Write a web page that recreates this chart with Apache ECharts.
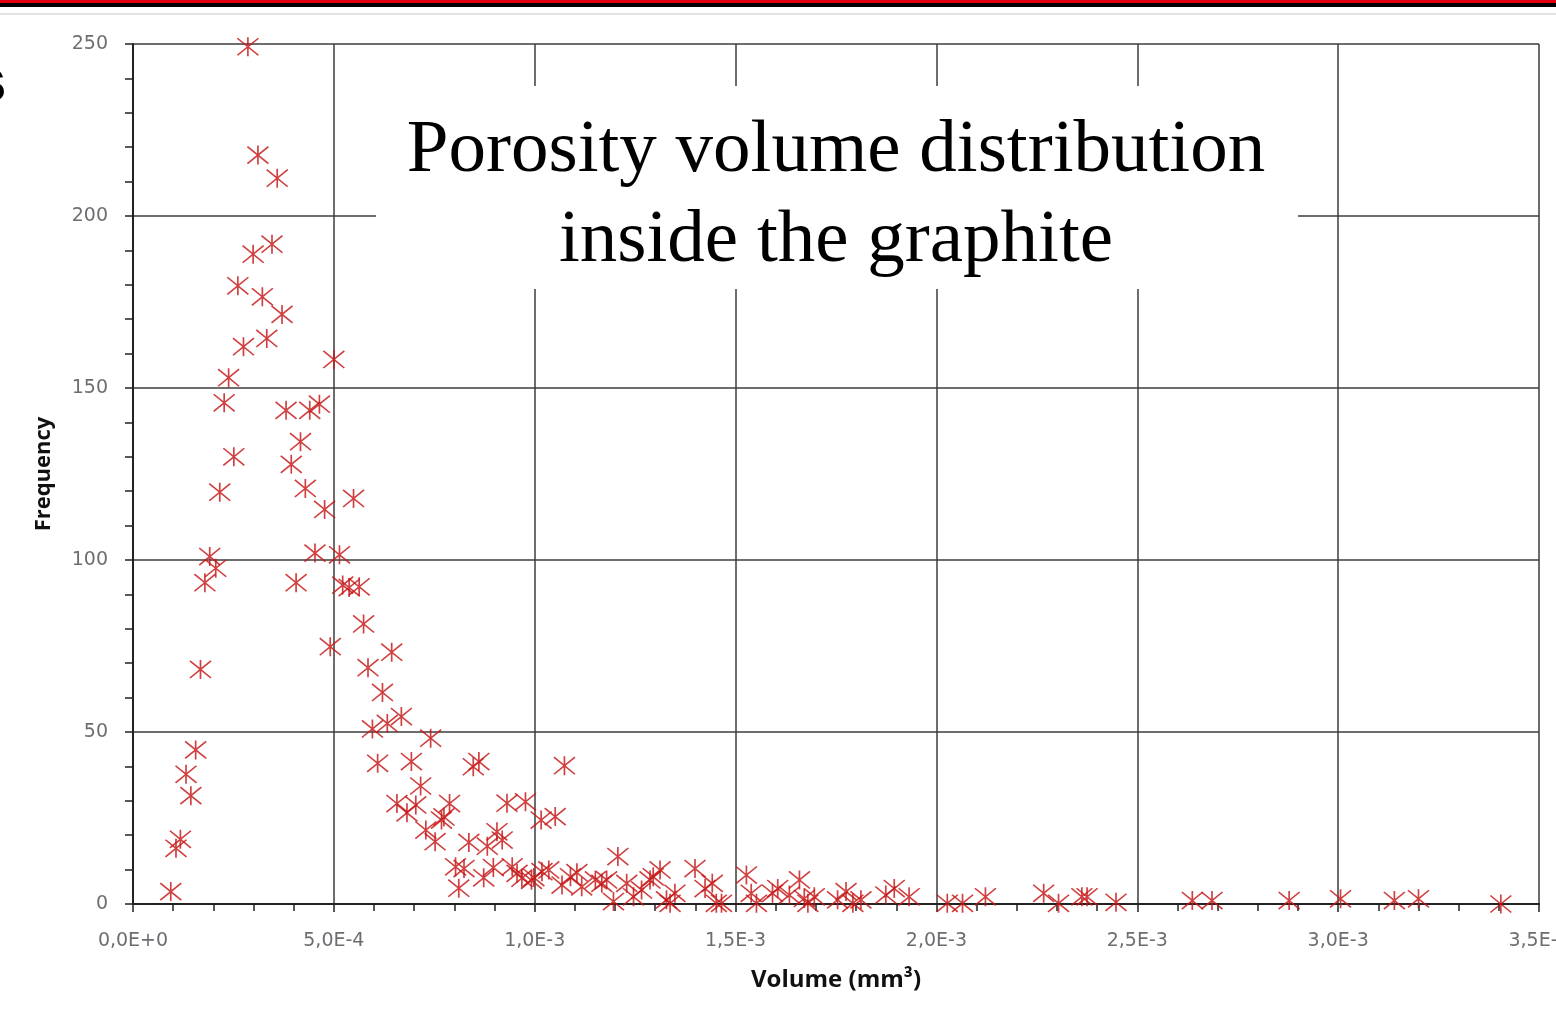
<!DOCTYPE html>
<html>
<head>
<meta charset="utf-8">
<script src="https://cdn.jsdelivr.net/npm/echarts@6/dist/echarts.min.js"></script>
<style>
html,body{margin:0;padding:0;background:#fff;}
#c{width:1556px;height:1024px;}
</style>
</head>
<body>
<div id="c"></div>
<script>
// Volume values in units of 1E-4 mm3
const volumeE4 = [
  0.94,1.07,1.18,1.44,1.32,1.56,1.68,1.79,1.91,2.06,2.16,2.27,2.38,2.51,2.61,2.75,2.86,2.99,3.11,3.22,
  3.33,3.46,3.59,3.71,3.81,3.94,4.06,4.17,4.29,4.40,4.53,4.64,4.77,4.91,5.00,5.14,5.22,5.38,5.49,5.63,
  5.74,5.85,5.96,6.09,6.21,6.33,6.44,6.57,6.68,6.82,6.93,7.04,7.16,7.29,7.41,7.52,7.68,7.74,7.88,8.03,
  8.11,8.24,8.36,8.47,8.61,8.73,8.82,8.97,9.06,9.19,9.31,9.44,9.56,9.68,9.77,9.92,9.98,10.16,10.18,10.35,
  10.51,10.68,10.74,10.89,11.05,11.17,11.51,11.67,11.79,11.96,12.07,12.29,12.46,12.66,12.87,12.95,13.12,13.28,13.37,13.49,
  13.99,14.24,14.42,14.52,14.65,15.27,15.39,15.52,15.92,16.05,16.34,16.59,16.71,16.80,16.96,17.54,17.75,17.92,18.12,18.74,
  18.95,19.32,20.27,20.65,21.22,22.67,23.04,23.62,23.75,24.47,26.37,26.86,28.78,30.06,31.40,32.00,34.05
];
const frequency = [
  3.6,16.2,18.8,31.5,37.7,44.8,68.2,93.4,101,97.6,119.7,145.7,153,130,179.7,162,249.2,188.9,217.7,176.5,
  164.4,191.8,211,171.4,143.5,127.8,93.4,134.4,120.8,143.5,102,145.3,114.7,74.8,158.3,101.5,92.7,92,117.9,92.2,
  81.4,68.7,50.9,40.9,61.5,52.5,73.2,29.2,54.5,26.5,41.4,28.8,34.3,21.5,48.2,18.1,24.4,25.3,29.2,10.8,
  4.6,10.3,17.9,39.9,41.4,7.6,16.8,10.6,21,18.6,29.3,10.8,8.9,7.5,29.7,6.9,7.7,24.4,9.4,9.9,
  25.4,5.5,40.2,7.9,9.1,5,7,6,7,0.7,13.8,6,2.1,4.1,7,7.9,9.9,1.2,0.2,3.1,
  10.3,4.5,6,0.2,0.2,8.4,3.1,0.2,3.1,4.5,2.6,7,1.6,0.2,2.1,1.2,3.6,0.2,1.2,2.6,
  4.5,2.1,0.2,0.2,2.1,3.1,0.2,2.1,2.1,0.5,1,1,1,1.5,1,1.5,0
];
const titleLines = ['Porosity volume distribution', 'inside the graphite'];
const xAxisName = 'Volume (mm³)';
const yAxisName = 'Frequency';

const points = volumeE4.map((v, i) => [v * 1e-4, frequency[i]]);

const chart = echarts.init(document.getElementById('c'), null, {renderer: 'canvas'});
const gridColor = '#3c3c3c';
const labelColor = '#6c6e72';
chart.setOption({
  animation: false,
  backgroundColor: '#ffffff',
  grid: {left: 133, right: 17, top: 44, bottom: 120, containLabel: false, outerBoundsMode: 'none'},
  xAxis: {
    type: 'value', min: 0, max: 0.0035, interval: 0.0005,
    name: xAxisName, nameLocation: 'middle', nameGap: 64,
    nameTextStyle: {fontFamily: 'Open Sans', fontWeight: 'bold', fontSize: 24, color: '#111'},
    axisLine: {show: true, onZero: false, lineStyle: {color: '#222', width: 2}},
    axisTick: {show: true, inside: false, length: 8, lineStyle: {color: '#222', width: 1.5}},
    minorTick: {show: true, splitNumber: 5, length: 7, lineStyle: {color: '#222', width: 1.5}},
    splitLine: {show: true, lineStyle: {color: gridColor, width: 1.5}},
    axisLabel: {
      margin: 28, color: labelColor, fontFamily: 'DejaVu Sans', fontSize: 19,
      formatter: v => v.toExponential(1).replace('.', ',').replace('e', 'E')
    }
  },
  yAxis: {
    type: 'value', min: 0, max: 250, interval: 50,
    name: yAxisName, nameLocation: 'middle', nameGap: 78, nameRotate: 90,
    nameTextStyle: {fontFamily: 'Open Sans', fontWeight: 'bold', fontSize: 22, color: '#111'},
    axisLine: {show: true, lineStyle: {color: '#222', width: 2}},
    axisTick: {show: true, inside: false, length: 8, lineStyle: {color: '#222', width: 1.5}},
    minorTick: {show: true, splitNumber: 5, length: 8, lineStyle: {color: '#222', width: 1.5}},
    splitLine: {show: true, lineStyle: {color: gridColor, width: 1.5}},
    axisLabel: {margin: 25, color: labelColor, fontFamily: 'DejaVu Sans', fontSize: 19}
  },
  series: [{
    type: 'scatter',
    data: points,
    symbol: 'path://M10,0L10,20M0,1L20,19M0,19L20,1',
    symbolSize: [21, 19],
    itemStyle: {color: 'rgba(0,0,0,0)', borderColor: 'rgba(198,22,22,0.82)', borderWidth: 1.6, opacity: 1},
    z: 5
  }],
  graphic: [
    {type: 'rect', z: 100, shape: {x: 0, y: 0, width: 1556, height: 3}, style: {fill: '#e3000f'}},
    {type: 'rect', z: 100, shape: {x: 0, y: 3, width: 1556, height: 4}, style: {fill: '#000000'}},
    {type: 'rect', z: 100, shape: {x: 0, y: 13, width: 1556, height: 2}, style: {fill: '#e2e2e2'}},
    {type: 'text', z: 100, left: -28, top: 53, style: {text: 's', font: 'bold 62px "Liberation Sans"', fill: '#000'}},
    {type: 'rect', z: 50, shape: {x: 376, y: 86, width: 922, height: 203}, style: {fill: '#ffffff'}},
    {type: 'text', z: 60, x: 836, y: 196,
     style: {text: titleLines.join('\n'), font: '75px "Liberation Serif"', lineHeight: 90,
             align: 'center', verticalAlign: 'middle', fill: '#000'}}
  ]
});
</script>
</body>
</html>
